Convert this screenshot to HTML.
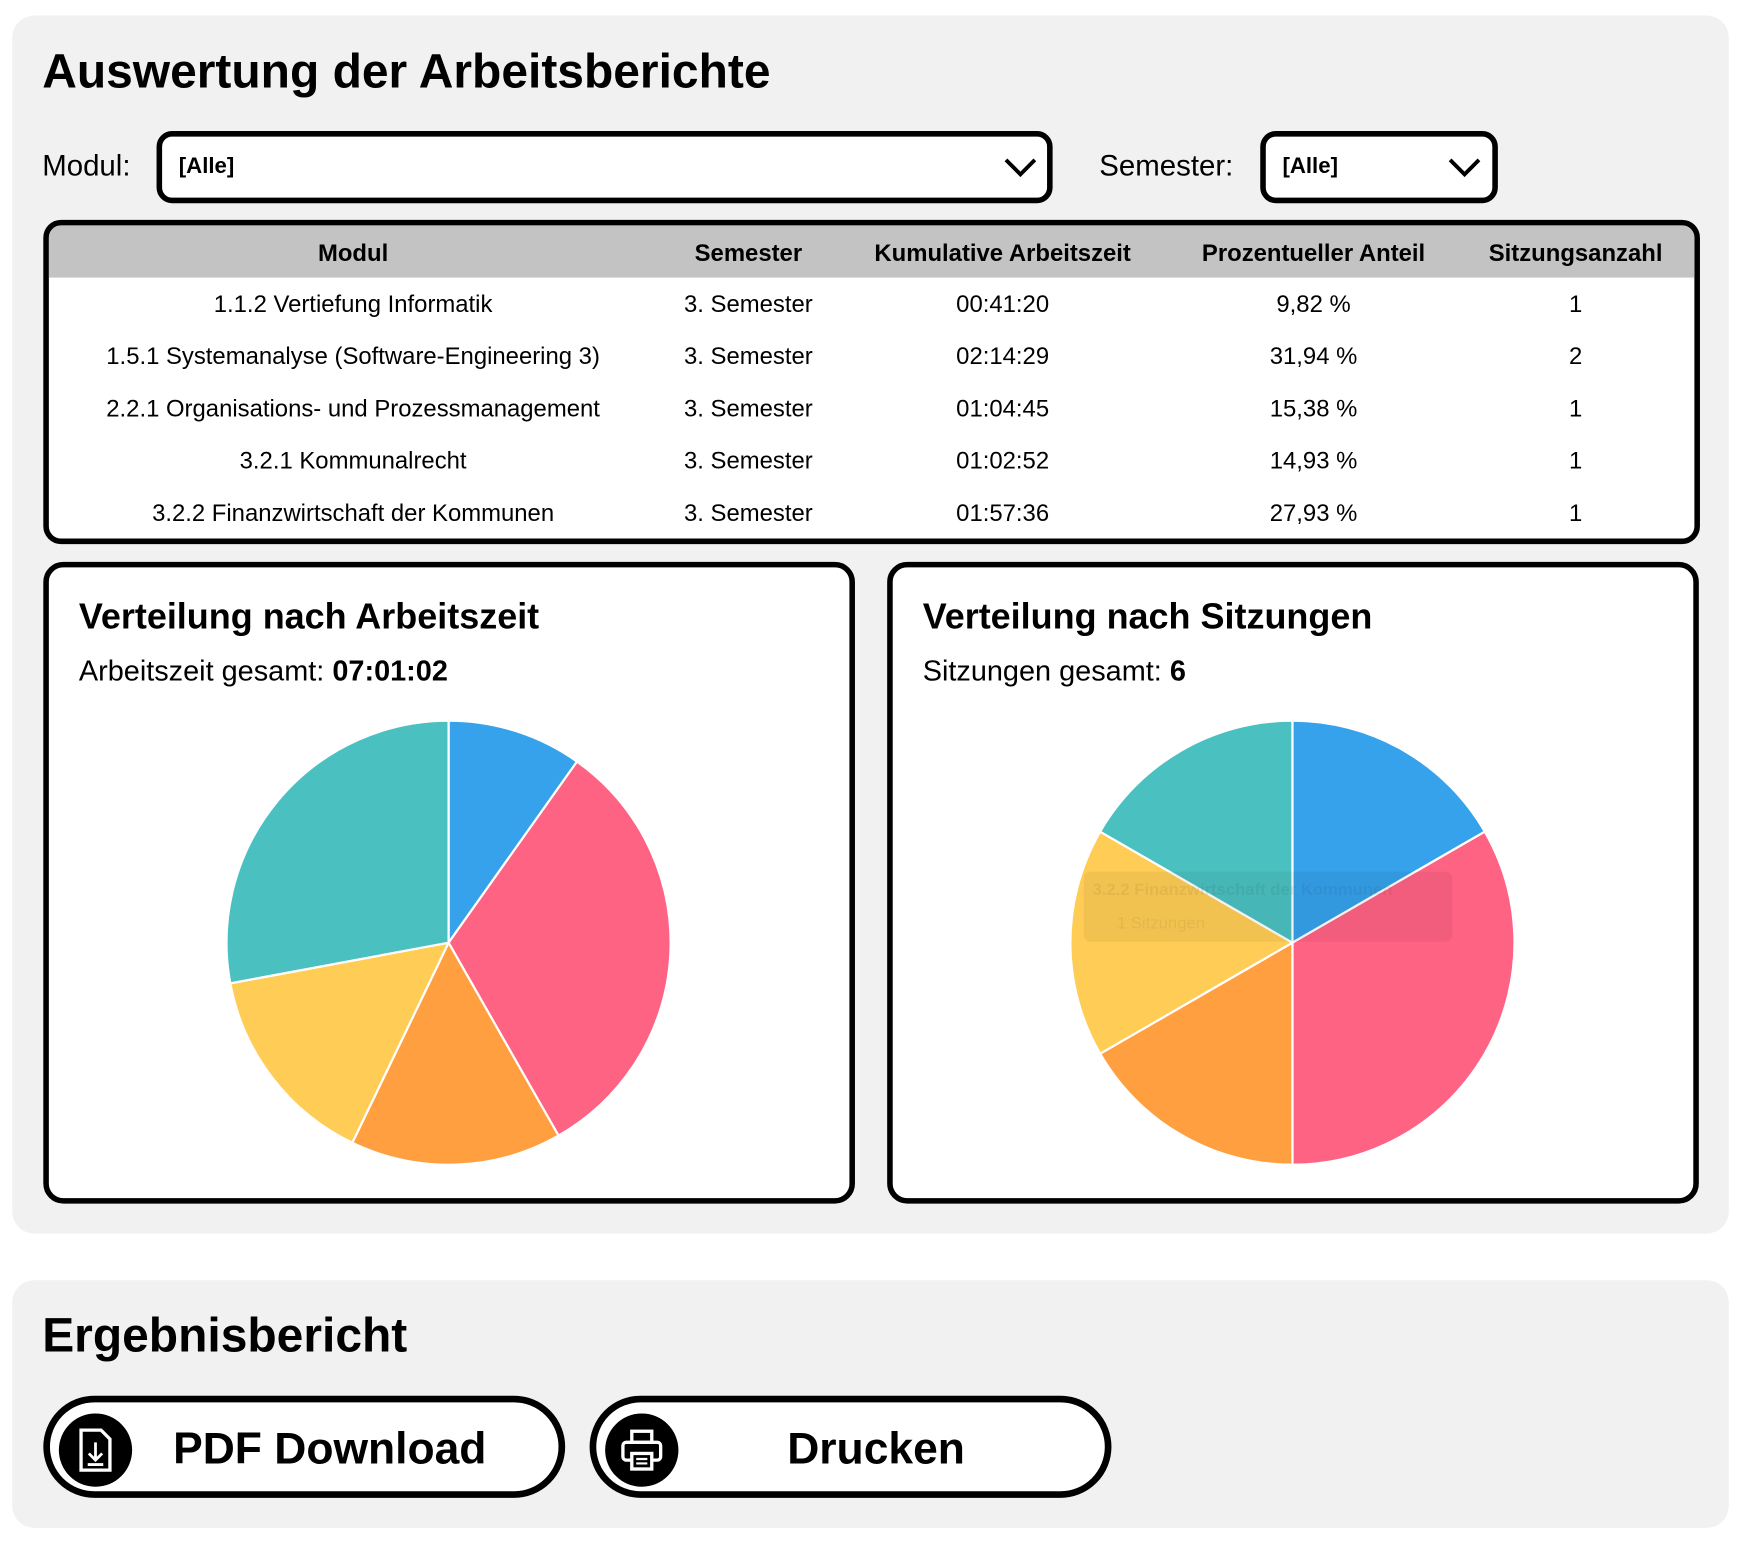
<!DOCTYPE html>
<html><head><meta charset="utf-8"><style>
html,body{margin:0;padding:0;background:#fff;width:1741px;height:1548px;overflow:hidden;font-family:"Liberation Sans",sans-serif;}
#wrap{position:absolute;left:0;top:0;width:1568px;height:1394px;transform:scale(1.11035);transform-origin:0 0;}
.abs{position:absolute;}
.panel{background:#f1f1f1;border-radius:20px;}
.sel{background:#fff;border:5px solid #000;border-radius:14px;box-sizing:border-box;}
.sel span{position:absolute;left:15px;top:16px;font-weight:bold;font-size:20px;}
.sel svg{position:absolute;top:18px;}
.cell{position:absolute;transform:translateX(-50%);white-space:nowrap;font-size:21.5px;}
.card{background:#fff;border:5px solid #000;border-radius:18px;box-sizing:border-box;}
.btn{background:#fff;border:6px solid #000;border-radius:46px;box-sizing:border-box;}
.btn .ic{position:absolute;left:8px;top:10px;width:66px;height:66px;border-radius:50%;background:#000;}
.btn .t{position:absolute;top:20px;font-weight:bold;font-size:40px;transform:translateX(-50%);white-space:nowrap;}
</style></head><body>
<div id="wrap">
<div class="abs panel" style="left:11px;top:14px;width:1546px;height:1097px;"></div>
<div class="abs" style="left:38px;top:41px;font-size:43.2px;font-weight:bold;">Auswertung der Arbeitsberichte</div>
<div class="abs" style="left:38px;top:134px;font-size:26.5px;">Modul:</div>
<div class="abs sel" style="left:141px;top:118px;width:807px;height:65px;"><span>[Alle]</span><svg width="32" height="20" style="left:757px" viewBox="0 0 32 20"><polyline points="3,3 16,16 29,3" fill="none" stroke="#000" stroke-width="3.5"/></svg></div>
<div class="abs" style="left:990px;top:134px;font-size:26.5px;">Semester:</div>
<div class="abs sel" style="left:1135px;top:118px;width:214px;height:65px;"><span>[Alle]</span><svg width="32" height="20" style="left:163px" viewBox="0 0 32 20"><polyline points="3,3 16,16 29,3" fill="none" stroke="#000" stroke-width="3.5"/></svg></div>

<div class="abs" style="left:39px;top:198px;width:1492px;height:292px;background:#fff;border:5px solid #000;border-radius:16px;box-sizing:border-box;overflow:hidden;">
<div class="abs" style="left:0;top:0;width:100%;height:47px;background:#c3c3c3;"></div>
<div id="tbl" class="abs" style="left:-44px;top:-203px;"></div>
</div>

<div class="abs card" style="left:39px;top:506px;width:731px;height:578px;"></div>
<div class="abs" style="left:71px;top:537px;font-size:32.4px;font-weight:bold;">Verteilung nach Arbeitszeit</div>
<div class="abs" style="left:71px;top:589px;font-size:26px;">Arbeitszeit gesamt: <b>07:01:02</b></div>
<div class="abs card" style="left:799px;top:506px;width:731px;height:578px;"></div>
<div class="abs" style="left:831px;top:537px;font-size:32.4px;font-weight:bold;">Verteilung nach Sitzungen</div>
<div class="abs" style="left:831px;top:589px;font-size:26px;">Sitzungen gesamt: <b>6</b></div>
<svg id="pies" class="abs" style="left:0;top:0" width="1568" height="1394"></svg>
<div class="abs" style="left:976px;top:785px;width:332px;height:63px;border-radius:6px;background:rgba(0,0,0,0.05);color:rgba(0,0,0,0.06);font-size:15px;font-weight:bold;"><div style="position:absolute;left:8px;top:8px;">3.2.2 Finanzwirtschaft der Kommunen</div><div style="position:absolute;left:30px;top:38px;font-weight:normal;">1 Sitzungen</div></div>

<div class="abs panel" style="left:11px;top:1153px;width:1546px;height:223px;"></div>
<div class="abs" style="left:38px;top:1179px;font-size:43.2px;font-weight:bold;">Ergebnisbericht</div>
<div class="abs btn" style="left:39px;top:1257px;width:470px;height:92px;">
<div class="ic"><svg width="66" height="66" viewBox="0 0 66 66"><path d="M20 15h18l8 8v28H20z" fill="none" stroke="#fff" stroke-width="3"/><path d="M33 26v16M27 36l6 6 6-6M26 46h14" fill="none" stroke="#fff" stroke-width="2.5"/></svg></div>
<div class="t" style="left:252px;">PDF Download</div></div>
<div class="abs btn" style="left:531px;top:1257px;width:470px;height:92px;">
<div class="ic"><svg width="66" height="66" viewBox="0 0 66 66"><rect x="24" y="16" width="18" height="10" fill="none" stroke="#fff" stroke-width="3"/><rect x="16" y="26" width="34" height="16" rx="3" fill="none" stroke="#fff" stroke-width="3"/><rect x="24" y="36" width="18" height="14" fill="#000" stroke="#fff" stroke-width="3"/><path d="M28 41h10M28 45h10" stroke="#fff" stroke-width="2"/></svg></div>
<div class="t" style="left:252px;">Drucken</div></div>
</div>
<script>
const modules=["1.1.2 Vertiefung Informatik","1.5.1 Systemanalyse (Software-Engineering 3)","2.2.1 Organisations- und Prozessmanagement","3.2.1 Kommunalrecht","3.2.2 Finanzwirtschaft der Kommunen"];
const semesters=["3. Semester","3. Semester","3. Semester","3. Semester","3. Semester"];
const timeLabels=["00:41:20","02:14:29","01:04:45","01:02:52","01:57:36"];
const percentLabels=["9,82 %","31,94 %","15,38 %","14,93 %","27,93 %"];
const sessions=[1,2,1,1,1];
const timeMinutes=[41.33,134.48,64.75,62.87,117.6];
const colors=["#36a2eb","#ff6384","#ff9f40","#ffcd56","#4bc0c0"];
const headers=["Modul","Semester","Kumulative Arbeitszeit","Prozentueller Anteil","Sitzungsanzahl"];
const colX=[318,674,903,1183,1419];
const tbl=document.getElementById('tbl');
function addCell(txt,x,y,bold,name){const d=document.createElement('div');d.className='cell';d.style.left=x+'px';d.style.top=(y-12)+'px';if(bold)d.style.fontWeight='bold';d.textContent=txt;


tbl.appendChild(d);}
headers.forEach((h,i)=>addCell(h,colX[i],228,true,'header-cell'));
modules.forEach((m,r)=>{const y=274+47*r;const row=[m,semesters[r],timeLabels[r],percentLabels[r],String(sessions[r])];row.forEach((v,i)=>addCell(v,colX[i],y,false,'table-cell'));});
const NS='http://www.w3.org/2000/svg';const svg=document.getElementById('pies');
function pie(vals,cx,cy,r,name){const tot=vals.reduce((a,b)=>a+b,0);let a=-Math.PI/2;vals.forEach((v,i)=>{const b=a+v/tot*2*Math.PI;const x1=cx+r*Math.cos(a),y1=cy+r*Math.sin(a),x2=cx+r*Math.cos(b),y2=cy+r*Math.sin(b);const p=document.createElementNS(NS,'path');p.setAttribute('d',`M${cx},${cy}L${x1},${y1}A${r},${r} 0 ${b-a>Math.PI?1:0} 1 ${x2},${y2}Z`);p.setAttribute('fill',colors[i]);p.setAttribute('stroke','#fff');p.setAttribute('stroke-width','2');


svg.appendChild(p);a=b;});}
pie(timeMinutes,404,849,200,'time-slice');
pie(sessions,1164,849,200,'session-slice');
</script>
</body></html>
